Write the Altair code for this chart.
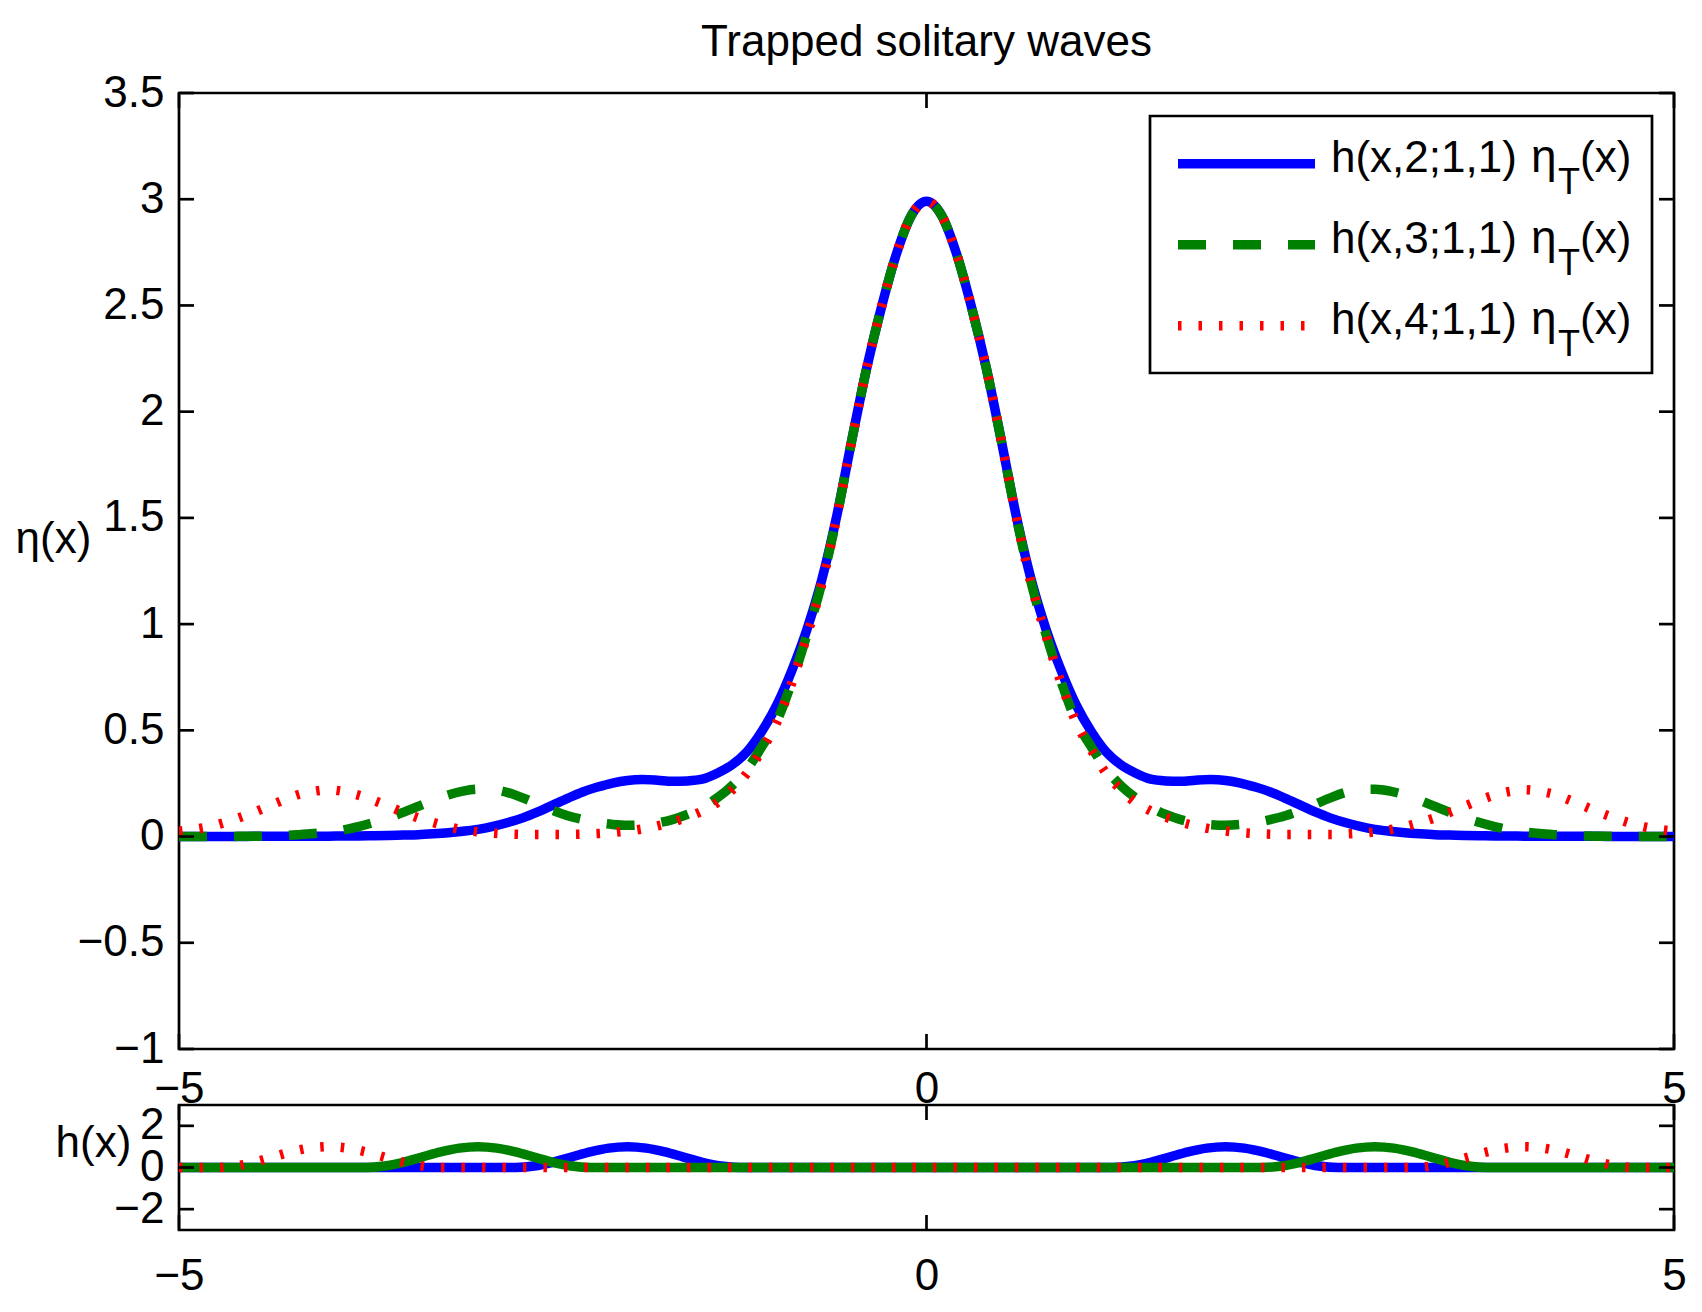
import altair as alt
import pandas as pd

FONT = "Liberation Sans"

# ---------------- data ----------------
x_grid = [-5.0, -4.9, -4.8, -4.7, -4.6, -4.5, -4.4, -4.3, -4.2, -4.1,
          -4.0, -3.9, -3.8, -3.7, -3.6, -3.5, -3.4, -3.3, -3.2, -3.1,
          -3.0, -2.9, -2.8, -2.7, -2.6, -2.5, -2.4, -2.3, -2.2, -2.1,
          -2.0, -1.9, -1.8, -1.7, -1.6, -1.5, -1.4, -1.3, -1.2, -1.1,
          -1.0, -0.9, -0.8, -0.7, -0.6, -0.5, -0.4, -0.3, -0.2, -0.1,
          0.0,
          0.1, 0.2, 0.3, 0.4, 0.5, 0.6, 0.7, 0.8, 0.9, 1.0,
          1.1, 1.2, 1.3, 1.4, 1.5, 1.6, 1.7, 1.8, 1.9, 2.0,
          2.1, 2.2, 2.3, 2.4, 2.5, 2.6, 2.7, 2.8, 2.9, 3.0,
          3.1, 3.2, 3.3, 3.4, 3.5, 3.6, 3.7, 3.8, 3.9, 4.0,
          4.1, 4.2, 4.3, 4.4, 4.5, 4.6, 4.7, 4.8, 4.9, 5.0]

eta_k2 = [0.000, 0.000, 0.000, 0.000, 0.000, 0.001, 0.001, 0.001, 0.001, 0.002,
          0.002, 0.003, 0.003, 0.004, 0.005, 0.007, 0.009, 0.013, 0.018, 0.025,
          0.034, 0.048, 0.066, 0.088, 0.116, 0.148, 0.180, 0.210, 0.233, 0.252,
          0.264, 0.268, 0.265, 0.260, 0.262, 0.270, 0.298, 0.338, 0.400, 0.497,
          0.621, 0.783, 0.975, 1.210, 1.510, 1.865, 2.205, 2.495, 2.745, 2.925,
          2.990,
          2.925, 2.745, 2.495, 2.205, 1.865, 1.510, 1.210, 0.975, 0.783, 0.621,
          0.497, 0.400, 0.338, 0.298, 0.270, 0.262, 0.260, 0.265, 0.268, 0.264,
          0.252, 0.233, 0.210, 0.180, 0.148, 0.116, 0.088, 0.066, 0.048, 0.034,
          0.025, 0.018, 0.013, 0.009, 0.007, 0.005, 0.004, 0.003, 0.003, 0.002,
          0.002, 0.001, 0.001, 0.001, 0.001, 0.000, 0.000, 0.000, 0.000, 0.000]

eta_k3 = [0.000, 0.000, 0.000, 0.000, 0.001, 0.001, 0.003, 0.005, 0.009, 0.014,
          0.021, 0.031, 0.047, 0.066, 0.088, 0.114, 0.142, 0.170, 0.196, 0.214,
          0.223, 0.221, 0.207, 0.182, 0.152, 0.123, 0.098, 0.080, 0.066, 0.057,
          0.053, 0.056, 0.064, 0.080, 0.104, 0.138, 0.182, 0.240, 0.318, 0.425,
          0.545, 0.730, 0.950, 1.195, 1.505, 1.865, 2.205, 2.495, 2.745, 2.925,
          2.990,
          2.925, 2.745, 2.495, 2.205, 1.865, 1.505, 1.195, 0.950, 0.730, 0.545,
          0.425, 0.318, 0.240, 0.182, 0.138, 0.104, 0.080, 0.064, 0.056, 0.053,
          0.057, 0.066, 0.080, 0.098, 0.123, 0.152, 0.182, 0.207, 0.221, 0.223,
          0.214, 0.196, 0.170, 0.142, 0.114, 0.088, 0.066, 0.047, 0.031, 0.021,
          0.014, 0.009, 0.005, 0.003, 0.001, 0.001, 0.000, 0.000, 0.000, 0.000]

eta_k4 = [0.026, 0.034, 0.046, 0.065, 0.088, 0.114, 0.143, 0.172, 0.198, 0.213,
          0.220, 0.212, 0.195, 0.171, 0.143, 0.114, 0.088, 0.066, 0.047, 0.032,
          0.022, 0.016, 0.012, 0.010, 0.010, 0.010, 0.010, 0.011, 0.014, 0.019,
          0.026, 0.036, 0.050, 0.068, 0.091, 0.120, 0.160, 0.220, 0.300, 0.410,
          0.540, 0.725, 0.945, 1.190, 1.505, 1.865, 2.205, 2.495, 2.745, 2.925,
          2.990,
          2.925, 2.745, 2.495, 2.205, 1.865, 1.505, 1.190, 0.945, 0.725, 0.540,
          0.410, 0.300, 0.220, 0.160, 0.120, 0.091, 0.068, 0.050, 0.036, 0.026,
          0.019, 0.014, 0.011, 0.010, 0.010, 0.010, 0.010, 0.012, 0.016, 0.022,
          0.032, 0.047, 0.066, 0.088, 0.114, 0.143, 0.171, 0.195, 0.212, 0.220,
          0.213, 0.198, 0.172, 0.143, 0.114, 0.088, 0.065, 0.046, 0.034, 0.026]

hx_k2 = [-5.0, -2.75, -2.625, -2.5, -2.375, -2.25, -2.125, -2.0, -1.875, -1.75,
         -1.625, -1.5, -1.375, -1.25, 1.25, 1.375, 1.5, 1.625, 1.75, 1.875, 2.0,
         2.125, 2.25, 2.375, 2.5, 2.625, 2.75, 5.0]
hx_k3 = [-5.0, -3.75, -3.625, -3.5, -3.375, -3.25, -3.125, -3.0, -2.875, -2.75,
         -2.625, -2.5, -2.375, -2.25, 2.25, 2.375, 2.5, 2.625, 2.75, 2.875, 3.0,
         3.125, 3.25, 3.375, 3.5, 3.625, 3.75, 5.0]
hx_k4 = [-5.0, -4.75, -4.625, -4.5, -4.375, -4.25, -4.125, -4.0, -3.875, -3.75,
         -3.625, -3.5, -3.375, -3.25, 3.25, 3.375, 3.5, 3.625, 3.75, 3.875, 4.0,
         4.125, 4.25, 4.375, 4.5, 4.625, 4.75, 5.0]
h_k2 = [0, 0, 0.07, 0.25, 0.5, 0.75, 0.93, 1.0, 0.93, 0.75, 0.5, 0.25, 0.07, 0,
        0, 0.07, 0.25, 0.5, 0.75, 0.93, 1.0, 0.93, 0.75, 0.5, 0.25, 0.07, 0, 0]
h_k3 = [0, 0, 0.07, 0.25, 0.5, 0.75, 0.93, 1.0, 0.93, 0.75, 0.5, 0.25, 0.07, 0,
        0, 0.07, 0.25, 0.5, 0.75, 0.93, 1.0, 0.93, 0.75, 0.5, 0.25, 0.07, 0, 0]
h_k4 = [0, 0, 0.07, 0.25, 0.5, 0.75, 0.93, 1.0, 0.93, 0.75, 0.5, 0.25, 0.07, 0,
        0, 0.07, 0.25, 0.5, 0.75, 0.93, 1.0, 0.93, 0.75, 0.5, 0.25, 0.07, 0, 0]

legend_main = ["h(x,2;1,1)", "h(x,3;1,1)", "h(x,4;1,1)"]
legend_eta = "\u03b7"
legend_sub = "T"
legend_tail = "(x)"

x_ticks = [-5, 0, 5]
y_ticks_top = [-1, -0.5, 0, 0.5, 1, 1.5, 2, 2.5, 3, 3.5]
y_ticks_bot = [-2, 0, 2]

title_text = "Trapped solitary waves"

# ---------------- styling ----------------
W, H1, H2 = 1495, 956, 125
TICK = 15
LW = 9.5
FRAME = 2.7
BLUE = dict(color="#0000ff", dash=None)
GREEN_D = dict(color="#008000", dash=[28, 27])
GREEN_S = dict(color="#008000", dash=None)
RED = dict(color="#ff0000", dash=[3.5, 17])
legend_styles = [BLUE, GREEN_D, RED]

xs = alt.Scale(domain=[-5, 5], nice=False, zero=False)
ys1 = alt.Scale(domain=[-1, 3.5], nice=False, zero=False)
ys2 = alt.Scale(domain=[-3, 3], nice=False, zero=False)

lab = dict(labelFont=FONT, labelFontSize=44, labelColor="black",
           labelFlush=False, labelOverlap=False, labelBound=False,
           grid=False, domain=False, ticks=False, format="~g")
ttl = dict(titleFont=FONT, titleFontSize=44, titleFontWeight="normal",
           titleColor="black", titleAngle=0, titleAlign="center",
           titleBaseline="middle")


def line_layer(xv, yv, st, yscale, xaxis, yaxis):
    df = pd.DataFrame({"x": xv, "y": yv})
    kw = dict(color=st["color"], strokeWidth=LW, strokeCap="butt",
              interpolate="monotone", clip=True)
    if st["dash"]:
        kw["strokeDash"] = st["dash"]
    return alt.Chart(df).mark_line(**kw).encode(
        x=alt.X("x:Q", scale=xs, axis=xaxis),
        y=alt.Y("y:Q", scale=yscale, axis=yaxis),
    )


def tick_layers(yscale, yvals, height, xaxis, yaxis):
    ydf = pd.DataFrame({"y": yvals})
    xdf = pd.DataFrame({"x": x_ticks})
    rk = dict(color="black", strokeWidth=FRAME)
    left = alt.Chart(ydf).mark_rule(**rk).encode(
        y=alt.Y("y:Q", scale=yscale, axis=yaxis), x=alt.value(0), x2=alt.value(TICK))
    right = alt.Chart(ydf).mark_rule(**rk).encode(
        y=alt.Y("y:Q", scale=yscale, axis=yaxis), x=alt.value(W - TICK), x2=alt.value(W))
    top = alt.Chart(xdf).mark_rule(**rk).encode(
        x=alt.X("x:Q", scale=xs, axis=xaxis), y=alt.value(0), y2=alt.value(TICK))
    bot = alt.Chart(xdf).mark_rule(**rk).encode(
        x=alt.X("x:Q", scale=xs, axis=xaxis), y=alt.value(height - TICK), y2=alt.value(height))
    return [left, right, top, bot]


# ---------------- top panel ----------------
xaxis_top = alt.Axis(values=x_ticks, labelPadding=18, title=None, **lab)
yaxis_top = alt.Axis(values=y_ticks_top, labelPadding=15, title="\u03b7(x)",
                     titleX=-126, titleY=446, **ttl, **lab)

top_layers = [
    line_layer(x_grid, eta_k2, BLUE, ys1, xaxis_top, yaxis_top),
    line_layer(x_grid, eta_k3, GREEN_D, ys1, xaxis_top, yaxis_top),
    line_layer(x_grid, eta_k4, RED, ys1, xaxis_top, yaxis_top),
]
top_layers += tick_layers(ys1, y_ticks_top, H1, xaxis_top, yaxis_top)

# legend drawn by hand (subscript T)
one = pd.DataFrame({"k": [0]})
top_layers.append(
    alt.Chart(one).mark_rect(fill="white", stroke="black", strokeWidth=FRAME).encode(
        x=alt.value(971), x2=alt.value(1473), y=alt.value(23), y2=alt.value(280)))
txt = dict(baseline="alphabetic", font=FONT, color="black")
for i, st in enumerate(legend_styles):
    ly = 70.7 + 81 * i
    kw = dict(color=st["color"], strokeWidth=LW, strokeCap="butt")
    if st["dash"]:
        kw["strokeDash"] = st["dash"]
    top_layers.append(alt.Chart(one).mark_rule(**kw).encode(
        x=alt.value(999), x2=alt.value(1136), y=alt.value(ly)))
    base = 79 + 81 * i
    top_layers.append(alt.Chart(one).mark_text(
        text=legend_main[i], align="left", fontSize=44, **txt).encode(
        x=alt.value(1152), y=alt.value(base)))
    top_layers.append(alt.Chart(one).mark_text(
        text=legend_eta, align="left", fontSize=46, **txt).encode(
        x=alt.value(1352), y=alt.value(base)))
    top_layers.append(alt.Chart(one).mark_text(
        text=legend_sub, align="left", fontSize=36, **txt).encode(
        x=alt.value(1379), y=alt.value(base + 22)))
    top_layers.append(alt.Chart(one).mark_text(
        text=legend_tail, align="left", fontSize=44, **txt).encode(
        x=alt.value(1401), y=alt.value(base)))

top = alt.layer(*top_layers).properties(
    width=W, height=H1,
    title=alt.TitleParams(title_text, font=FONT, fontSize=44, fontWeight="normal",
                          color="black", anchor="middle", frame="group",
                          offset=6),
)

# ---------------- bottom panel ----------------
xaxis_bot = alt.Axis(values=x_ticks, labelPadding=24, title=None, **lab)
yaxis_bot = alt.Axis(values=y_ticks_bot, labelPadding=15, title="h(x)",
                     titleX=-86, titleY=38, **ttl, **lab)
bot_layers = [
    line_layer(hx_k2, h_k2, BLUE, ys2, xaxis_bot, yaxis_bot),
    line_layer(hx_k3, h_k3, GREEN_S, ys2, xaxis_bot, yaxis_bot),
    line_layer(hx_k4, h_k4, RED, ys2, xaxis_bot, yaxis_bot),
]
bot_layers += tick_layers(ys2, y_ticks_bot, H2, xaxis_bot, yaxis_bot)
bottom = alt.layer(*bot_layers).properties(width=W, height=H2)

chart = alt.vconcat(top, bottom, spacing=56, bounds="flush").configure_view(
    stroke="black", strokeWidth=FRAME
).properties(
    padding={"left": 5, "top": 11, "right": 5, "bottom": 0},
    background="white",
)

chart.save("out.html", embed_options={"renderer": "svg", "actions": False})
